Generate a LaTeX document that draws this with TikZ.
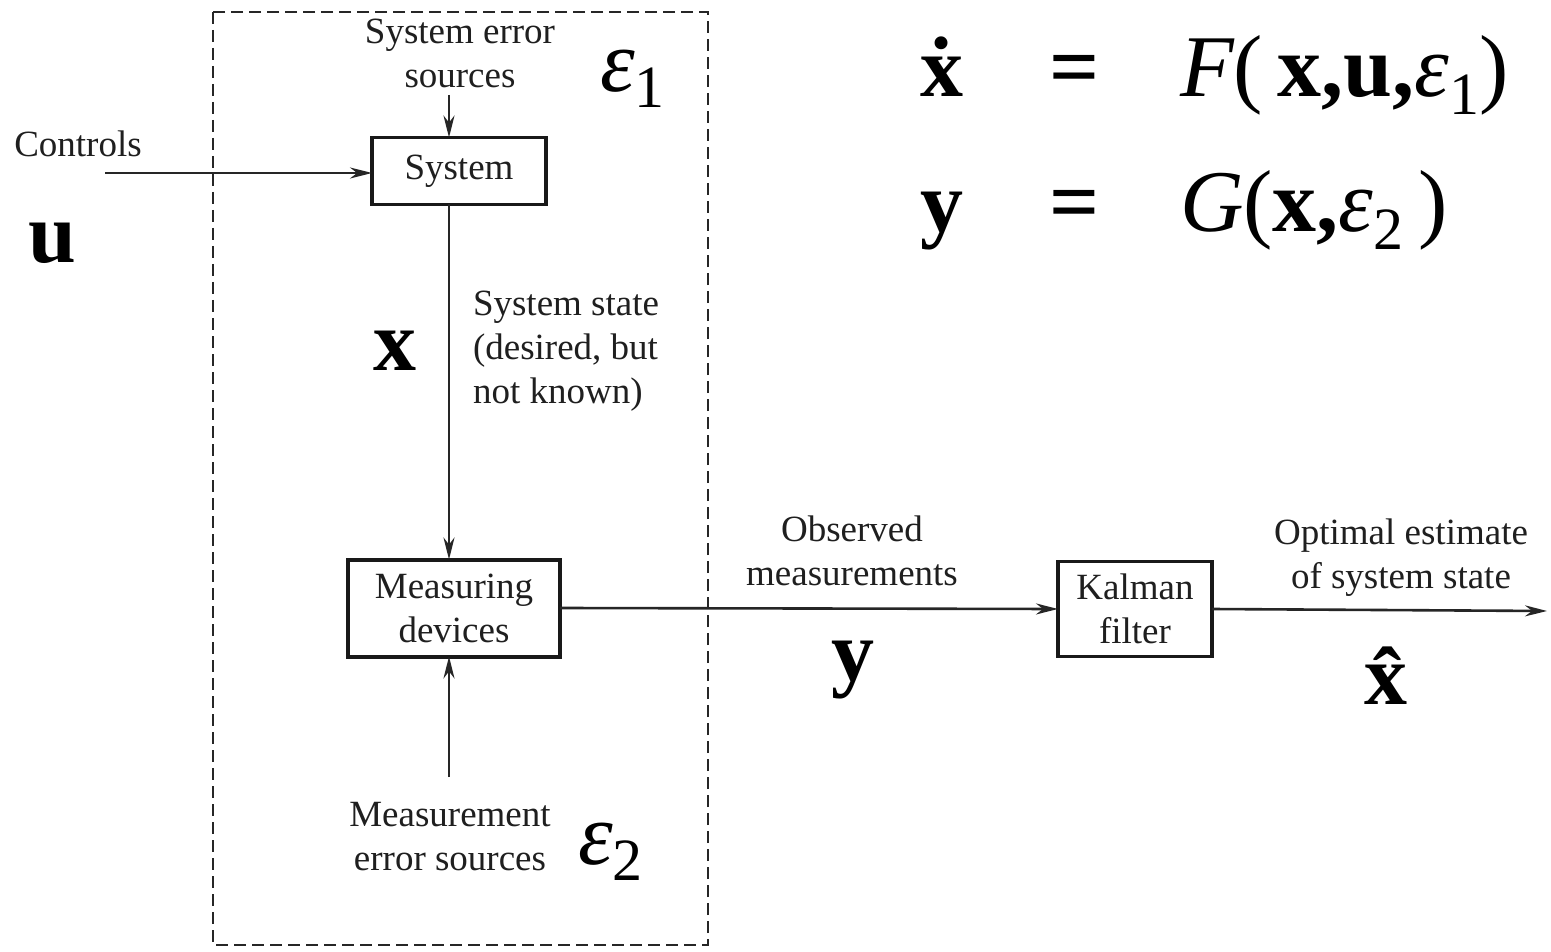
\documentclass[tikz,border=0pt]{standalone}
\usepackage{fontspec}
\setmainfont{Liberation Serif}
\usetikzlibrary{arrows.meta}
\newcommand{\lowsub}[2]{\raisebox{-#1}{\fontsize{60}{60}\selectfont #2}}
\begin{document}
\begin{tikzpicture}[x=1pt,y=-1pt,
  every node/.style={inner sep=0pt,outer sep=0pt},
  caption/.style={align=center,font=\fontsize{37}{44}\selectfont,text=black!88},
  block/.style={draw=black!90,line width=3.5pt,minimum width=#1},
  conn/.style={line width=2.6pt,draw=black!85},
  arr/.style={conn,-{Stealth[length=22pt,width=11pt]}},
  sym/.style={font=\fontsize{86}{86}\selectfont\bfseries},
  eqn/.style={font=\fontsize{88}{88}\selectfont,anchor=base}]
\useasboundingbox (0,0) rectangle (1551,952);
\fill[white] (0,0) rectangle (1551,952);

% plant and its sensors, inside the dashed frame
\draw[line width=2.8pt,black!85,dash pattern=on 12pt off 6pt] (213,12) rectangle (708,945);
\coordinate (ax) at (449,0);

\node[block=174pt,minimum height=67pt,caption] (sys) at (459,171) {System};
\node[block=212pt,minimum height=97pt,caption,line width=4pt] (meas) at (454,608) {Measuring\\devices};
\node[block=154pt,minimum height=95pt,caption] (kal) at (1135,609) {Kalman\\filter};

% multi-line captions are placed by the baseline of their last line
\node[caption,anchor=base] (src) at (460,88) {System error\\sources};
\node[caption,anchor=base] (ctl) at (78,157) {Controls};
\node[caption,anchor=base west,align=left] (state) at (473,403) {System state\\(desired, but\\not known)};
\node[caption,anchor=base] (merr) at (450,870) {Measurement\\error sources};
\node[caption,anchor=base] (obs) at (852,585) {Observed\\measurements};
\node[caption,anchor=base] (opt) at (1401,588) {Optimal estimate\\of system state};

% connectors
\coordinate (srcend) at (449,95);
\coordinate (uin) at (105,173);
\coordinate (merrtop) at (449,777);
\coordinate (xout) at (1547,611);
\draw[arr] (srcend) -- (sys.north -| ax);
\draw[arr] (uin) -- (sys.west |- uin);
\draw[arr] (sys.south -| ax) -- (meas.north -| ax);
\draw[arr] (merrtop) -- (meas.south -| ax);
\draw[arr] (meas.east) -- (kal.west);
\draw[arr] (kal.east) -- (xout);

% signal symbols
\node[sym,anchor=base] (u) at (52,262) {u};
\node[sym,anchor=base] (x) at (395,370) {x};
\node[sym,anchor=base] (y) at (853,680) {y};
\node[sym,anchor=base] (xh) at (1386,704) {\^{x}};
\node[eqn,anchor=base west] (e1) at (600,92) {\itshape ε\lowsub{16pt}{\upshape 1}};
\node[eqn,anchor=base west] (e2) at (578,864) {\itshape ε\lowsub{16pt}{\upshape 2}};

% model equations
\node[eqn,sym] (l1) at (942,97) {\.{x}};
\node[eqn] (q1) at (1075,97) {\bfseries =};
\node[eqn,anchor=base west] (r1) at (1180,97) {\itshape F\upshape(\,\bfseries x,u,\mdseries\itshape ε\lowsub{18pt}{\upshape 1}\upshape)};
\node[eqn,sym] (l2) at (942,232) {y};
\node[eqn] (q2) at (1075,232) {\bfseries =};
\node[eqn,anchor=base west] (r2) at (1180,232) {\itshape G\upshape(\bfseries x,\mdseries\itshape ε\lowsub{18pt}{\upshape 2}\upshape\,)};
\end{tikzpicture}
\end{document}
